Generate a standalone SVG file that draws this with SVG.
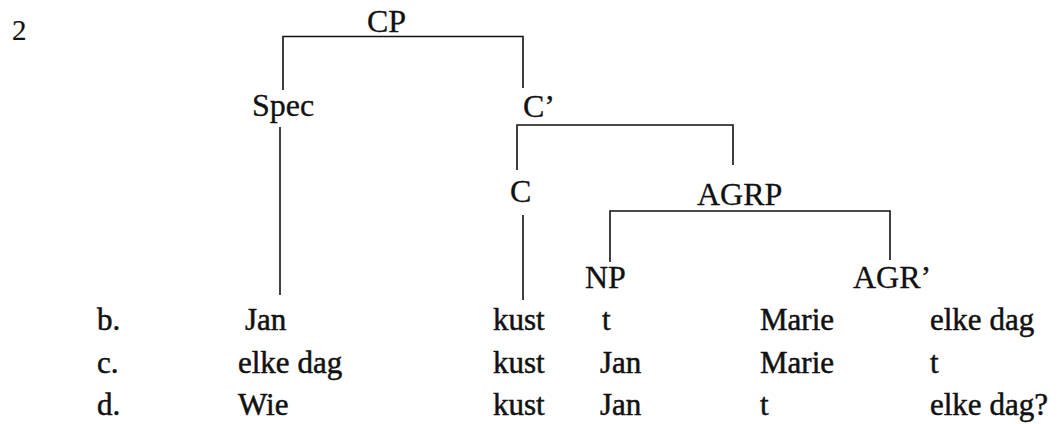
<svg xmlns="http://www.w3.org/2000/svg" width="1060" height="424" viewBox="0 0 1060 424">
  <style>
    text { font-family: "Liberation Serif", "Times New Roman", serif; fill: #111; stroke: #111; }
    .lbl { font-size: 32px; stroke-width: 0.3; }
    .row { font-size: 31px; stroke-width: 0.5; }
    .num { font-size: 29px; stroke-width: 0.2; }
    .edge { stroke: #111; stroke-width: 1.6; fill: none; }
  </style>
  <rect width="1060" height="424" fill="#fff"/>

  <text class="num" x="12" y="40">2</text>

  <!-- tree branches -->
  <g id="connectors">
    <path class="edge" d="M283,90 V36.5 H523 V88"/>
    <path class="edge" d="M280,127 V295"/>
    <path class="edge" d="M517,170 V125 H733 V165"/>
    <path class="edge" d="M523,215 V300"/>
    <path class="edge" d="M610,262 V211 H890 V260"/>
  </g>

  <!-- tree nodes -->
  <g id="node-cp"><text class="lbl" x="367" y="32">CP</text></g>
  <g id="node-spec"><text class="lbl" x="252" y="116">Spec</text></g>
  <g id="node-cbar"><text class="lbl" x="523" y="117">C’</text></g>
  <g id="node-c"><text class="lbl" x="510" y="202">C</text></g>
  <g id="node-agrp"><text class="lbl" x="697" y="205">AGRP</text></g>
  <g id="node-np"><text class="lbl" x="585" y="288">NP</text></g>
  <g id="node-agrbar"><text class="lbl" x="853" y="288">AGR’</text></g>

  <!-- example sentences -->
  <g id="row-b">
    <text class="row" x="97" y="330">b.</text>
    <text class="row" x="245" y="330">Jan</text>
    <text class="row" x="493" y="330">kust</text>
    <text class="row" x="602" y="330">t</text>
    <text class="row" x="760" y="330">Marie</text>
    <text class="row" x="930" y="330">elke dag</text>
  </g>
  <g id="row-c">
    <text class="row" x="97" y="373">c.</text>
    <text class="row" x="238" y="373">elke dag</text>
    <text class="row" x="493" y="373">kust</text>
    <text class="row" x="600" y="373">Jan</text>
    <text class="row" x="760" y="373">Marie</text>
    <text class="row" x="930" y="373">t</text>
  </g>
  <g id="row-d">
    <text class="row" x="97" y="415">d.</text>
    <text class="row" x="238" y="415">Wie</text>
    <text class="row" x="493" y="415">kust</text>
    <text class="row" x="600" y="415">Jan</text>
    <text class="row" x="760" y="415">t</text>
    <text class="row" x="930" y="415">elke dag?</text>
  </g>
</svg>
